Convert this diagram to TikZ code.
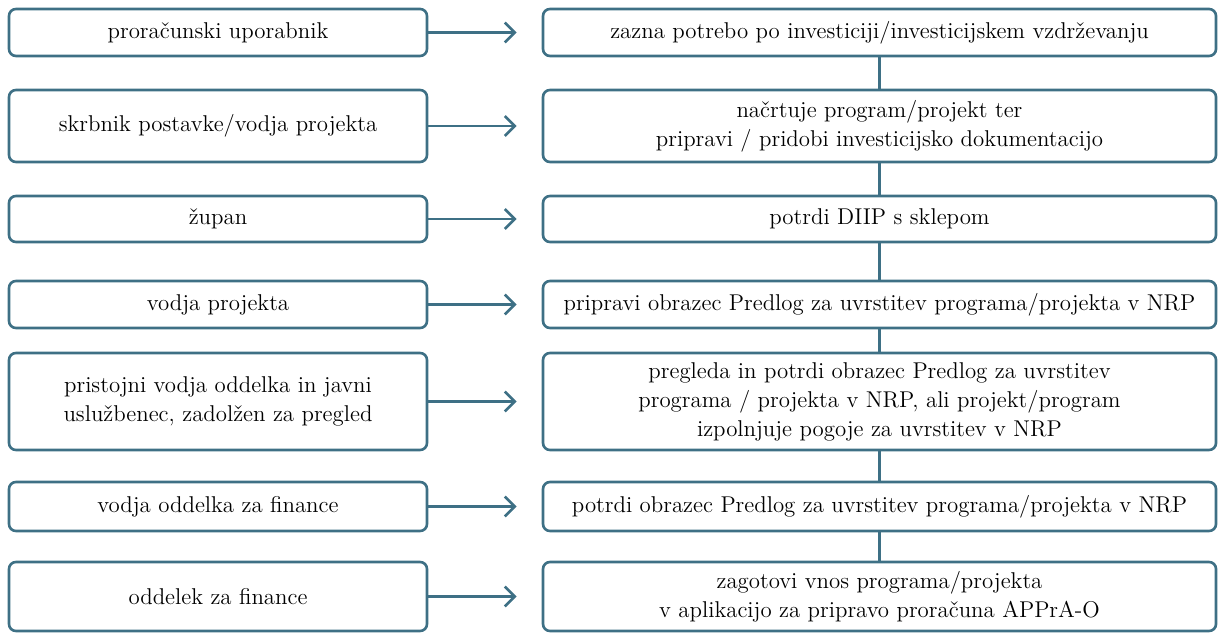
\documentclass[tikz,border=0pt]{standalone}
\usetikzlibrary{arrows.meta}
\definecolor{flowteal}{RGB}{62,112,133}

\begin{document}
\begin{tikzpicture}[
	rolebox/.style={draw=flowteal, line width=1.5pt, rounded corners=0.14cm, minimum width=8.36cm, align=center, inner sep=0pt, font=\fontsize{13}{16.5}\selectfont},
	taskbox/.style={draw=flowteal, line width=1.5pt, rounded corners=0.14cm, minimum width=13.46cm, align=center, inner sep=0pt, font=\fontsize{13}{16.5}\selectfont},
	flowarrow/.style={draw=flowteal, line width=1.5pt, -{Straight Barb[length=0.2cm,width=0.4cm]}, shorten >=0.5cm},
	flowlink/.style={draw=flowteal, line width=1.5pt}]
	\useasboundingbox (0,0) rectangle (24.36,-12.68);

	\node[rolebox, minimum height=0.94cm] (role1) at (4.36,-0.65) {proračunski uporabnik};
	\node[taskbox, minimum height=0.94cm] (task1) at (17.59,-0.65) {zazna potrebo po investiciji/investicijskem vzdrževanju};
	\draw[flowarrow] (role1) -- (task1);

	\node[rolebox, minimum height=1.44cm] (role2) at (4.36,-2.52) {skrbnik postavke/vodja projekta};
	\node[taskbox, minimum height=1.44cm] (task2) at (17.59,-2.52) {načrtuje program/projekt ter\\pripravi / pridobi investicijsko dokumentacijo};
	\draw[flowarrow] (role2) -- (task2);

	\node[rolebox, minimum height=0.92cm] (role3) at (4.36,-4.38) {župan};
	\node[taskbox, minimum height=0.92cm] (task3) at (17.59,-4.38) {potrdi DIIP s sklepom};
	\draw[flowarrow] (role3) -- (task3);

	\node[rolebox, minimum height=0.94cm] (role4) at (4.36,-6.09) {vodja projekta};
	\node[taskbox, minimum height=0.94cm] (task4) at (17.59,-6.09) {pripravi obrazec Predlog za uvrstitev programa/projekta v NRP};
	\draw[flowarrow] (role4) -- (task4);

	\node[rolebox, minimum height=1.94cm] (role5) at (4.36,-8.03) {pristojni vodja oddelka in javni\\uslužbenec, zadolžen za pregled};
	\node[taskbox, minimum height=1.94cm] (task5) at (17.59,-8.03) {pregleda in potrdi obrazec Predlog za uvrstitev\\programa / projekta v NRP, ali projekt/program\\izpolnjuje pogoje za uvrstitev v NRP};
	\draw[flowarrow] (role5) -- (task5);

	\node[rolebox, minimum height=0.98cm] (role6) at (4.36,-10.13) {vodja oddelka za finance};
	\node[taskbox, minimum height=0.98cm] (task6) at (17.59,-10.13) {potrdi obrazec Predlog za uvrstitev programa/projekta v NRP};
	\draw[flowarrow] (role6) -- (task6);

	\node[rolebox, minimum height=1.38cm] (role7) at (4.36,-11.93) {oddelek za finance};
	\node[taskbox, minimum height=1.38cm] (task7) at (17.59,-11.93) {zagotovi vnos programa/projekta\\v aplikacijo za pripravo proračuna APPrA-O};
	\draw[flowarrow] (role7) -- (task7);

	\draw[flowlink] (task1) -- (task2);
	\draw[flowlink] (task2) -- (task3);
	\draw[flowlink] (task3) -- (task4);
	\draw[flowlink] (task4) -- (task5);
	\draw[flowlink] (task5) -- (task6);
	\draw[flowlink] (task6) -- (task7);
\end{tikzpicture}
\end{document}
